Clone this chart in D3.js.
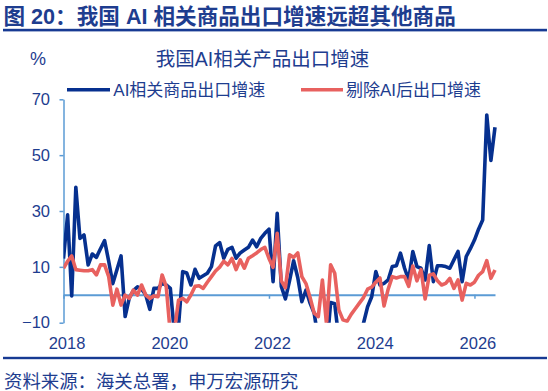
<!DOCTYPE html>
<html><head><meta charset="utf-8">
<script src="https://cdn.jsdelivr.net/npm/d3@7"></script>
<style>
body{margin:0;background:#fff;}
text{font-family:"Liberation Sans",Arial,"Noto Sans CJK SC",sans-serif;}
</style></head>
<body><svg id="c" width="548" height="391"></svg>
<script>
// ---- data ----
const seriesNames = ["AI相关商品出口增速", "剔除AI后出口增速"];
const xLabels = ["2018", "2020", "2022", "2024", "2026"];
const xLabelIdx = [0, 25, 50, 75, 100];
const yTicks = [-10, 10, 30, 50, 70];
const aiGrowth = [13,28.6,-0.4,38.5,20.2,21.4,10.7,14.6,13.4,16.5,19.4,12,4,9,13.9,-7.8,-1.2,1.5,2.8,2,0,-5.2,2.3,2.3,4.1,3.5,2.3,-14,-11,8.3,7.8,3.5,9.1,5.9,6.8,7.7,10.1,17.5,18.7,13.1,16.3,17,13.1,15,16,17,19.6,17.2,20.2,22,23.5,4.7,29.2,3,-1.5,5,12.2,6.2,-2.5,1.7,-3,-6.6,-16,-18,-20,-2.8,-3.2,-16,-18,-20,-18,-16,-14,-10.2,-4.3,-0.7,8.3,3.5,4.1,5.3,10.1,10.4,14.9,9.5,5.3,15.5,10.1,9.5,5.3,17.6,4.7,10.4,10.4,10.1,9.5,12.5,15.5,4.7,13.7,16.5,19.6,23.5,26.8,64.4,48.1,60];
const exAiGrowth = [9.5,12,13.9,9,8.8,8.6,8.6,9,7.1,10.7,10.7,6.5,-3.7,2,-3.7,-0.1,-1.3,1.7,-0.1,3.5,-0.1,-1.3,-0.4,-0.7,7.1,2.9,-14,-13,-1.9,-1.3,-2.5,-0.1,3,3.2,2.3,4.5,6.5,8.5,9.9,12,10.7,13,9,12.5,9.5,13.1,14,15,16.2,17,13,9.8,22,5,2.5,14.3,13.4,15,6.5,4,-1,-6.6,-7.8,5.3,-10.5,10.7,7.7,-5.4,-9,-9.5,-7,-5,-3,-1,2,2.7,4.5,6,-4,2,6.5,6,6.5,6.5,3,10.3,5,9,-1.5,7,7.5,5,3.5,4.1,5.9,2.3,5.3,-1.9,4.1,3.5,4.5,7,8.3,12.2,5.9,8.9];

// ---- style ----
const navy = "#1e3d8f", lineBlue = "#06308f", lineRed = "#e8615f", axisCol = "#5b9bd5";
const svg = d3.select("#c");

const x = d3.scaleLinear().domain([0, aiGrowth.length - 1]).range([63.5, 495]);
const y = d3.scaleLinear().domain([-10, 70]).range([322.7, 99.3]);

// header
svg.append("text").attr("x", 3.5).attr("y", 23.5).attr("fill", navy)
  .attr("font-size", 21.6).attr("font-weight", "bold")
  .text("图 20：我国 AI 相关商品出口增速远超其他商品");
svg.append("rect").attr("x", 3).attr("y", 28.8).attr("width", 544).attr("height", 2.6).attr("fill", "#173a93");

// chart title and unit
svg.append("text").attr("x", 262.5).attr("y", 65.5).attr("text-anchor", "middle")
  .attr("fill", navy).attr("font-size", 19.5).text("我国AI相关产品出口增速");
svg.append("text").attr("x", 30).attr("y", 65).attr("fill", navy)
  .attr("font-size", 18).text("%");

// legend
const legend = [{x0: 67, x1: 110, tx: 113.3, c: lineBlue, t: seriesNames[0]},
                {x0: 301, x1: 343, tx: 346, c: lineRed, t: seriesNames[1]}];
legend.forEach(l => {
  svg.append("line").attr("x1", l.x0).attr("x2", l.x1).attr("y1", 89.7).attr("y2", 89.7)
    .attr("stroke", l.c).attr("stroke-width", 3.5);
  svg.append("text").attr("x", l.tx).attr("y", 95.8).attr("fill", navy)
    .attr("font-size", 17).text(l.t);
});

// y axis
const yAxis = svg.append("g").attr("transform", "translate(63.5,0)")
  .call(d3.axisLeft(y).tickValues(yTicks).tickSize(4).tickPadding(9.5).tickSizeOuter(0));
yAxis.select(".domain").attr("stroke", axisCol).attr("stroke-width", 1.5);
yAxis.selectAll(".tick line").attr("stroke", axisCol).attr("stroke-width", 1.5);
yAxis.selectAll(".tick text").attr("fill", navy).attr("font-size", 16.5)
  .style("font-family", "'Liberation Sans',Arial,sans-serif");

// zero line with ticks
const zAxis = svg.append("g").attr("transform", `translate(0,${y(0)})`)
  .call(d3.axisBottom(x).tickValues(xLabelIdx).tickSize(4).tickSizeOuter(0).tickFormat(""));
zAxis.select(".domain").attr("stroke", axisCol).attr("stroke-width", 2);
zAxis.selectAll(".tick line").attr("stroke", axisCol).attr("stroke-width", 1.5);

// x labels
const xAxis = svg.append("g").attr("transform", "translate(0,337)")
  .call(d3.axisBottom(x).tickValues(xLabelIdx).tickSize(0).tickPadding(0)
    .tickFormat((d, i) => xLabels[i]));
xAxis.select(".domain").remove();
xAxis.selectAll(".tick text").attr("fill", navy).attr("font-size", 16.5).attr("dx", 3)
  .style("font-family", "'Liberation Sans',Arial,sans-serif");

// clip
svg.append("clipPath").attr("id", "plotclip").append("rect")
  .attr("x", 63.5).attr("y", y(70) - 5).attr("width", 440).attr("height", y(-10) - y(70) + 5);

const line = d3.line().x((d, i) => x(i)).y(d => y(d)).curve(d3.curveLinear);
const plot = svg.append("g").attr("clip-path", "url(#plotclip)");
plot.append("path").datum(aiGrowth).attr("d", line).attr("fill", "none")
  .attr("stroke", lineBlue).attr("stroke-width", 3.6).attr("stroke-linejoin", "round");
plot.append("path").datum(exAiGrowth).attr("d", line).attr("fill", "none")
  .attr("stroke", lineRed).attr("stroke-width", 3.6).attr("stroke-linejoin", "round");

// footer
svg.append("rect").attr("x", 3).attr("y", 356.8).attr("width", 544).attr("height", 2.4).attr("fill", "#173a93");
svg.append("text").attr("x", 4).attr("y", 387.6).attr("fill", navy)
  .attr("font-size", 18.4).text("资料来源：海关总署，申万宏源研究");
</script></body></html>
